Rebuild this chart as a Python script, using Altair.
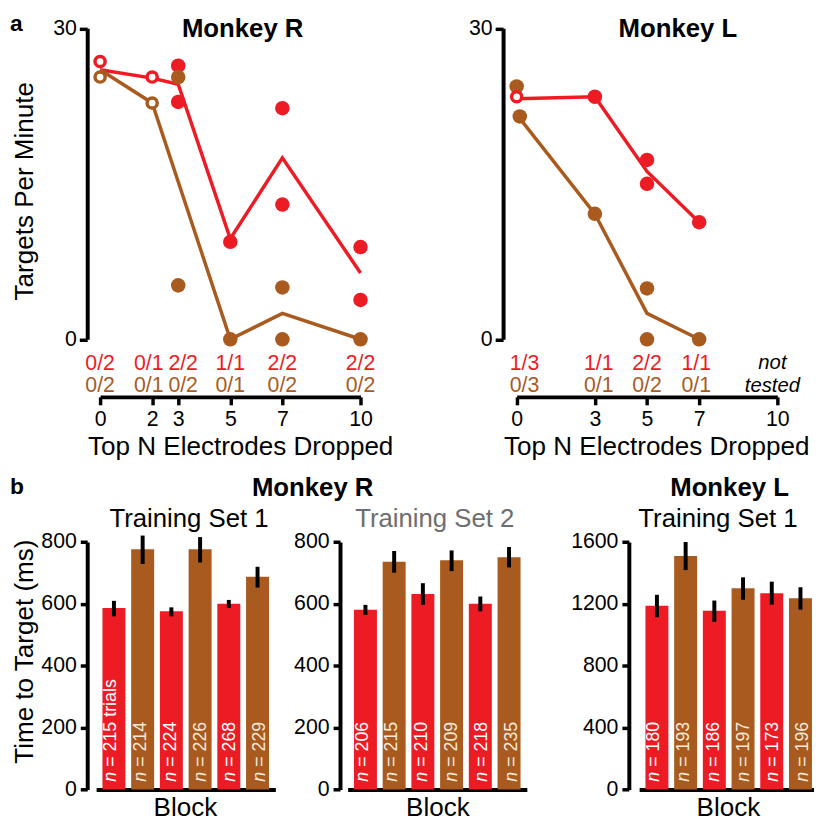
import altair as alt
import pandas as pd

RED = "#ED1C24"
BROWN = "#A95B1F"
FONT = "Liberation Sans"

# ---------------- data ----------------
# Panel a, Monkey R (individual sessions)
r_pt_x = [0, 0, 2, 2, 3, 3, 3, 3, 5, 5, 7, 7, 7, 7, 10, 10, 10]
r_pt_y = [26.8, 25.3, 25.3, 22.8, 26.4, 22.9, 25.3, 5.2, 9.4, 0.0, 22.3, 13.0, 5.0, 0.0, 8.9, 3.8, 0.0]
r_pt_grp = ["A", "B", "A", "B", "A", "A", "B", "B", "A", "B", "A", "A", "B", "B", "A", "A", "B"]
r_pt_open = [True, True, True, True, False, False, False, False, False, False, False, False, False, False, False, False, False]
r_line_x = [0, 2, 3, 5, 7, 10]
r_line_a = [26.0, 25.2, 24.6, 9.7, 17.5, 6.4]
r_line_b = [26.0, 22.8, 15.2, 0.0, 2.5, 0.0]
r_frac_x = [0, 2, 3, 5, 7, 10]
r_frac_a = ["0/2", "0/1", "2/2", "1/1", "2/2", "2/2"]
r_frac_b = ["0/2", "0/1", "0/2", "0/1", "0/2", "0/2"]
r_ticks = [0, 2, 3, 5, 7, 10]

# Panel a, Monkey L
l_pt_x = [0, 0, 0.12, 3, 3, 5, 5, 5, 5, 7, 7]
l_pt_y = [24.4, 23.4, 21.5, 23.4, 12.1, 17.3, 15.0, 4.9, 0.0, 11.3, 0.0]
l_pt_grp = ["B", "A", "B", "A", "B", "A", "A", "B", "B", "A", "B"]
l_pt_open = [False, True, False, False, False, False, False, False, False, False, False]
l_line_x = [0, 3, 5, 7]
l_line_a = [23.2, 23.4, 16.2, 11.3]
l_line_b = [21.7, 12.1, 2.5, 0.0]
l_frac_x = [0, 3, 5, 7]
l_frac_a = ["1/3", "1/1", "2/2", "1/1"]
l_frac_b = ["0/3", "0/1", "0/2", "0/1"]
l_ticks = [0, 3, 5, 7, 10]

# Panel b: time to target per block
blocks = [1, 2, 3, 4, 5, 6]
block_grp = ["A", "B", "A", "B", "A", "B"]
b1_mean = [587, 777, 576, 777, 601, 688]
b1_lo = [560, 729, 560, 734, 587, 653]
b1_hi = [610, 821, 589, 816, 613, 720]
b1_n = [215, 214, 224, 226, 268, 229]
b2_mean = [581, 736, 632, 741, 601, 751]
b2_lo = [565, 701, 597, 706, 576, 718]
b2_hi = [597, 771, 667, 773, 624, 784]
b2_n = [206, 215, 210, 209, 218, 235]
b3_mean = [1188, 1510, 1156, 1301, 1269, 1237]
b3_lo = [1114, 1419, 1084, 1227, 1195, 1163]
b3_hi = [1259, 1600, 1222, 1372, 1344, 1308]
b3_n = [180, 193, 186, 197, 173, 196]

W, H = 814, 817
CS = alt.Scale(domain=["A", "B"], range=[RED, BROWN])
GCOL = {"A": RED, "B": BROWN}
TITLE_X = -55


def top_panel(px, py, pg, po, lx, la, lb, fx, fa, fb, ticks, xr, yaxis_x, xtitle_cx,
              frac_dx, ytitle, not_tested=False):
    X = alt.Scale(domain=[0, 10], range=xr, nice=False, zero=False)
    Y = alt.Scale(domain=[0, 30], range=[330.5, 16.5], nice=False, zero=False)
    pts = pd.DataFrame(dict(x=px, y=py, grp=pg, open=po))
    lines = pd.DataFrame(dict(x=lx + lx, y=la + lb, grp=["A"] * len(lx) + ["B"] * len(lx)))
    xax = alt.Axis(orient="bottom", offset=388.7 - H, values=ticks, tickSize=8,
                   labelPadding=21, labelBaseline="alphabetic", labelFlush=False,
                   labelOverlap=False, title="Top N Electrodes Dropped",
                   titleX=xtitle_cx, titleY=57.8, titleBaseline="alphabetic",
                   titleAlign="center")
    yax = alt.Axis(orient="left", offset=-yaxis_x, values=[0, 30], tickSize=8,
                   labelPadding=3, title=ytitle, titleX=TITLE_X, titleY=180.5,
                   titleAngle=270, titleBaseline="alphabetic", titleAlign="center")
    line = alt.Chart(lines).mark_line(strokeWidth=3.5).encode(
        x=alt.X("x:Q", scale=X, axis=xax),
        y=alt.Y("y:Q", scale=Y, axis=yax),
        color=alt.Color("grp:N", scale=CS, legend=None),
    )
    filled = alt.Chart(pts).transform_filter("!datum.open").mark_circle(size=215, opacity=1).encode(
        x=alt.X("x:Q", scale=X, axis=None),
        y=alt.Y("y:Q", scale=Y, axis=None),
        color=alt.Color("grp:N", scale=CS, legend=None),
        order=alt.Order("grp:N"),
    )
    openp = alt.Chart(pts).transform_filter("datum.open").mark_point(
        shape="circle", size=105, fill="white", fillOpacity=1, strokeWidth=3.5, opacity=1
    ).encode(
        x=alt.X("x:Q", scale=X, axis=None),
        y=alt.Y("y:Q", scale=Y, axis=None),
        stroke=alt.Color("grp:N", scale=CS, legend=None),
        order=alt.Order("grp:N", sort="descending"),
    )
    layers = [line, filled, openp]
    for grp, labs, dy in (("A", fa, 31.5), ("B", fb, 53.5)):
        df = pd.DataFrame(dict(x=fx, t=labs))
        for dx in sorted(set(frac_dx.get(v, 0) for v in fx)):
            sel = [v for v in fx if frac_dx.get(v, 0) == dx]
            layers.append(
                alt.Chart(df).transform_filter(alt.FieldOneOfPredicate(field="x", oneOf=sel))
                .mark_text(dx=dx, dy=dy, fontSize=21.5, align="center", baseline="alphabetic",
                           color=GCOL[grp])
                .encode(x=alt.X("x:Q", scale=X, axis=None),
                        y=alt.YDatum(0, scale=Y, axis=None),
                        text="t:N")
            )
    if not_tested:
        nt = pd.DataFrame(dict(x=[10], t=["not\ntested"]))
        layers.append(
            alt.Chart(nt).mark_text(dx=-5, dy=30.5, fontSize=20.5, fontStyle="italic",
                                    align="center", baseline="alphabetic", lineBreak="\n",
                                    lineHeight=23, color="black")
            .encode(x=alt.X("x:Q", scale=X, axis=None),
                    y=alt.YDatum(0, scale=Y, axis=None),
                    text="t:N")
        )
    return layers


def bar_panel(mean, lo, hi, nvals, xr, yaxis_x, ydom, yticks, block_cx, ytitle, suffix):
    labs = ["= %d" % v for v in nvals]
    labs[0] = labs[0] + suffix
    df = pd.DataFrame(dict(block=blocks, grp=block_grp, mean=mean, lo=lo, hi=hi, lab=labs))
    X = alt.Scale(domain=blocks, range=xr, paddingInner=0.2, paddingOuter=0.22)
    Y = alt.Scale(domain=ydom, range=[785.3, 535.3], nice=False)
    xax = alt.Axis(orient="bottom", offset=785.3 - H, labels=False, ticks=False,
                   title="Block", titleX=block_cx, titleY=25.7,
                   titleBaseline="alphabetic", titleAlign="center")
    yax = alt.Axis(orient="left", offset=-yaxis_x, values=yticks, tickSize=7, format="d",
                   labelPadding=4, title=ytitle, titleX=TITLE_X, titleY=645.5,
                   titleAngle=270, titleBaseline="alphabetic", titleAlign="center")
    bars = alt.Chart(df).mark_bar().encode(
        x=alt.X("block:O", scale=X, axis=xax),
        y=alt.Y("mean:Q", scale=Y, axis=yax),
        color=alt.Color("grp:N", scale=CS, legend=None),
    )
    err = alt.Chart(df).mark_rule(strokeWidth=4, color="black").encode(
        x=alt.X("block:O", scale=X, axis=None),
        y=alt.Y("lo:Q", scale=Y, axis=None),
        y2="hi:Q",
    )
    layers = [bars, err]
    for grp, col in (("A", "white"), ("B", "#F6EADB")):
        sub = alt.Chart(df).transform_filter(alt.FieldEqualPredicate(field="grp", equal=grp))
        layers.append(
            sub.mark_text(angle=270, align="left", baseline="middle", dx=8, fontSize=18,
                          fontStyle="italic", color=col)
            .encode(x=alt.X("block:O", scale=X, axis=None),
                    y=alt.YDatum(0, scale=Y, axis=None),
                    text=alt.value("n"))
        )
        layers.append(
            sub.mark_text(angle=270, align="left", baseline="middle", dx=23, fontSize=18,
                          color=col)
            .encode(x=alt.X("block:O", scale=X, axis=None),
                    y=alt.YDatum(0, scale=Y, axis=None),
                    text="lab:N")
        )
    return layers


panel_r = top_panel(r_pt_x, r_pt_y, r_pt_grp, r_pt_open, r_line_x, r_line_a, r_line_b,
                    r_frac_x, r_frac_a, r_frac_b, r_ticks, [93, 356], 80, 234.5,
                    {2: -3.5, 3: 5}, "Targets Per Minute")
panel_l = top_panel(l_pt_x, l_pt_y, l_pt_grp, l_pt_open, l_line_x, l_line_a, l_line_b,
                    l_frac_x, l_frac_a, l_frac_b, l_ticks, [513.7, 777], 500, 654.7,
                    {0: 8, 3: 4, 7: -3}, "", not_tested=True)

b1 = bar_panel(b1_mean, b1_lo, b1_hi, b1_n, [89, 270], 80, [0, 800], [0, 200, 400, 600, 800],
               178.7, "Time to Target (ms)", " trials")
b2 = bar_panel(b2_mean, b2_lo, b2_hi, b2_n, [343, 524], 335.3, [0, 800], [0, 200, 400, 600, 800],
               433.7, "", "")
b3 = bar_panel(b3_mean, b3_lo, b3_hi, b3_n, [637.4, 818.3], 627, [0, 1600],
               [0, 400, 800, 1200, 1600], 727, "", "")

title_specs = [
    ("a", 8.5, 18.7, 23, "bold", "black"),
    ("Monkey R", 237, 25.3, 26, "bold", "black"),
    ("Monkey L", 676.5, 25.3, 26, "bold", "black"),
    ("b", 9, 487, 23, "bold", "black"),
    ("Monkey R", 307.7, 488.7, 26, "bold", "black"),
    ("Monkey L", 728.7, 488.7, 26, "bold", "black"),
    ("Training Set 1", 182.8, 520.3, 26, "normal", "black"),
    ("Training Set 2", 431, 520.3, 26, "normal", "#6D6E71"),
    ("Training Set 1", 717, 520.3, 26, "normal", "black"),
]
titles = []
for txt, tx, ty, fs, fw, col in title_specs:
    titles.append(
        alt.Chart(pd.DataFrame(dict(t=[txt]))).mark_text(
            fontSize=fs, fontWeight=fw, color=col, align="center", baseline="alphabetic"
        ).encode(text="t:N", x=alt.value(tx), y=alt.value(ty))
    )

chart = (
    alt.layer(*(panel_r + panel_l + b1 + b2 + b3 + titles))
    .resolve_scale(x="independent", y="independent")
    .properties(width=W, height=H, padding=0, autosize=alt.AutoSizeParams(type="none"))
    .configure_view(stroke=None)
    .configure_axis(grid=False, domainColor="black", tickColor="black", labelColor="black",
                    titleColor="black", labelFont=FONT, titleFont=FONT, labelFontSize=21.5,
                    titleFontSize=26.3, titleFontWeight="normal", domainWidth=4, tickWidth=3.5)
    .configure_text(font=FONT)
)

chart.save("out.html", embed_options={"renderer": "svg", "actions": False})
